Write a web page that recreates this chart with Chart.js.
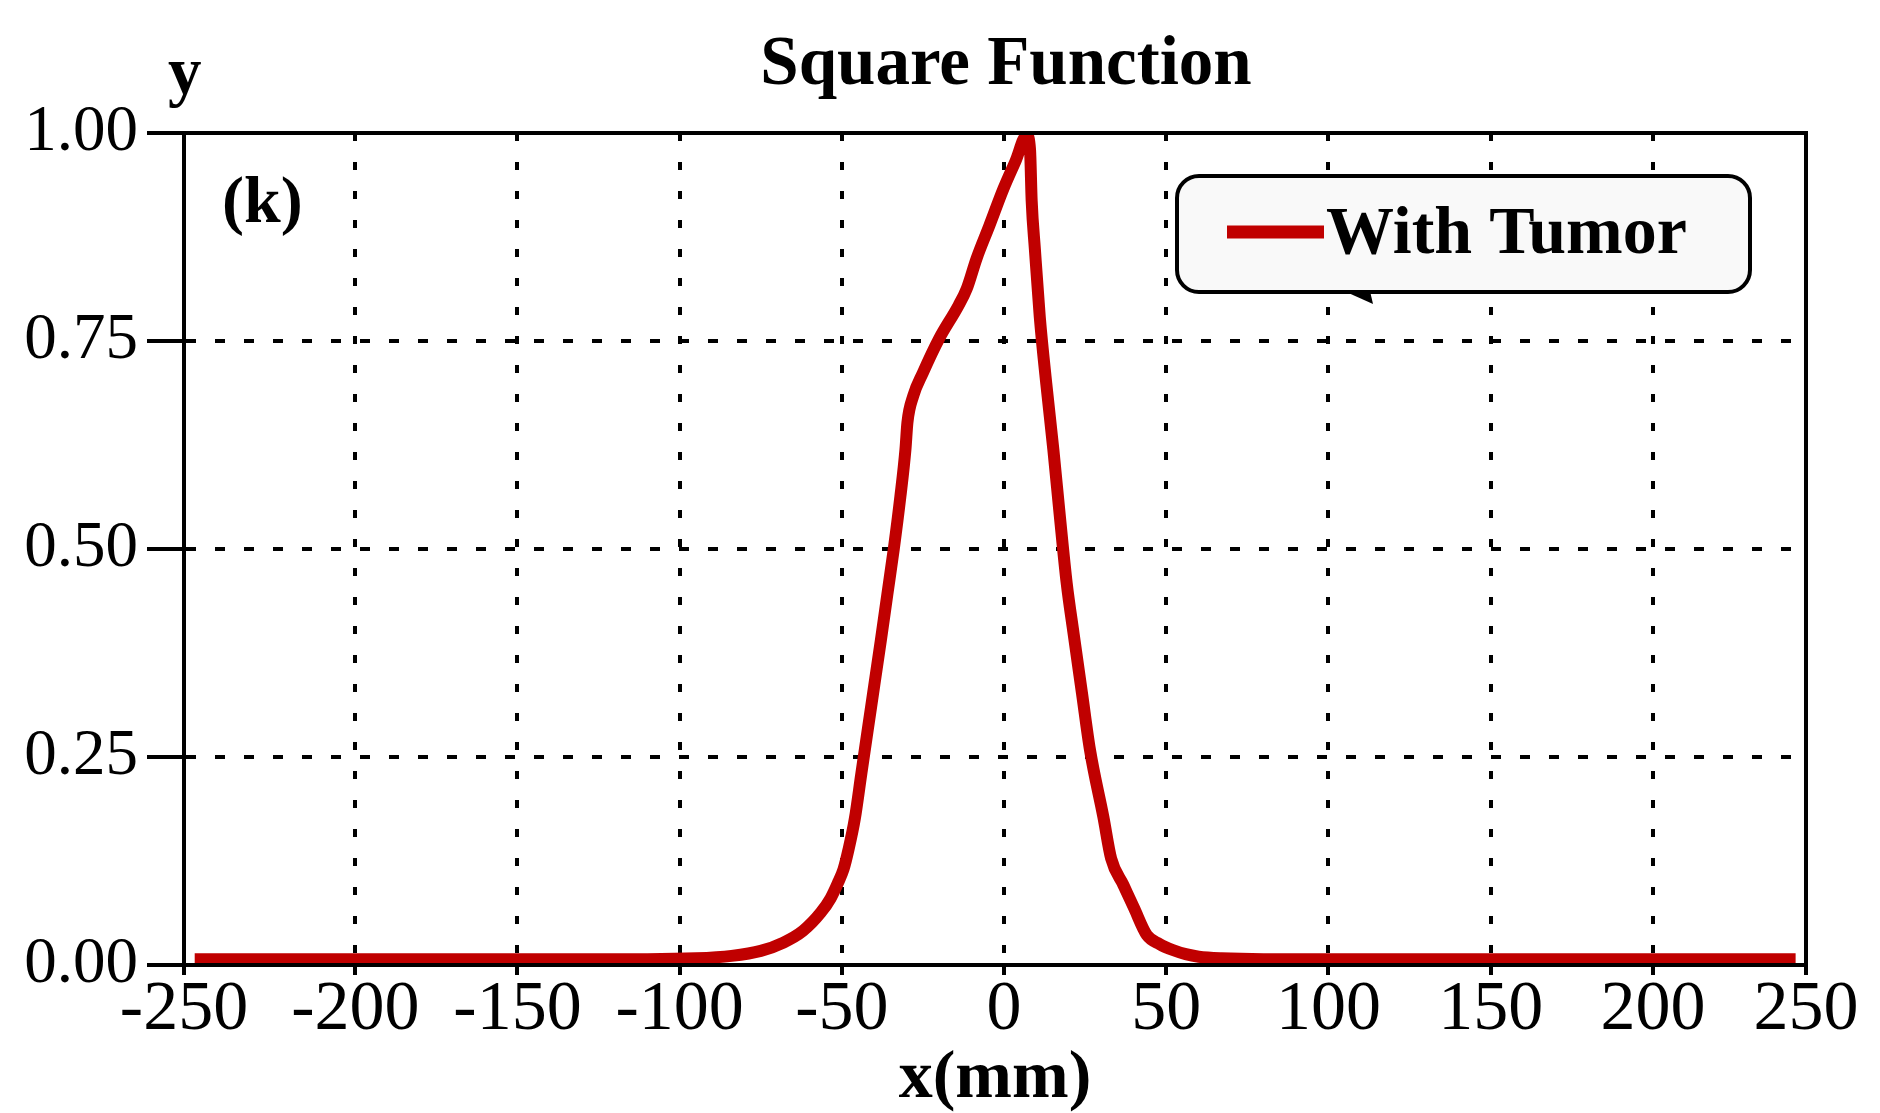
<!DOCTYPE html>
<html>
<head>
<meta charset="utf-8">
<script src="https://cdn.jsdelivr.net/npm/chart.js@4/dist/chart.umd.min.js"></script>
<style>
html,body{margin:0;padding:0;background:#fff;}
canvas{display:block;}
</style>
</head>
<body>
<canvas id="c" width="1880" height="1113"></canvas>
<script>
const chartTitle = 'Square Function';
const panelLabel = '(k)';
const xAxisTitle = 'x(mm)';
const yAxisTitle = 'y';
const seriesName = 'With Tumor';
const seriesColor = '#c00000';

const xValues = [-249.5, -150, -110, -95, -84, -75, -68, -62, -56.5, -53.5, -51.3, -49.5, -48, -46, -44, -41, -38, -36, -34, -32, -30.4, -29.8, -28, -25, -20, -14, -11.5, -8.5, -4.5, -0.2, 3.5, 7, 8, 8.5, 9.5, 11, 13, 15.2, 17.2, 19.3, 21.4, 24, 26.5, 30.6, 33, 36.8, 40, 44, 48, 52, 56, 60, 67, 80, 150, 244];
const yValues = [0.007, 0.007, 0.007, 0.008, 0.011, 0.017, 0.027, 0.041, 0.063, 0.08, 0.098, 0.115, 0.138, 0.176, 0.23, 0.31, 0.39, 0.445, 0.5, 0.562, 0.62, 0.652, 0.684, 0.712, 0.753, 0.793, 0.813, 0.849, 0.889, 0.933, 0.966, 0.997, 0.98, 0.919, 0.86, 0.779, 0.699, 0.619, 0.539, 0.459, 0.399, 0.327, 0.258, 0.178, 0.128, 0.096, 0.069, 0.036, 0.025, 0.018, 0.013, 0.01, 0.008, 0.007, 0.007, 0.007];

const xMin = -252.8;
const xMax = 247.2;
const xTicks = [-250, -200, -150, -100, -50, 0, 50, 100, 150, 200, 250];
const xTickLabels = ['-250', '-200', '-150', '-100', '-50', '0', '50', '100', '150', '200', '250'];
const yTicks = [0, 0.25, 0.5, 0.75, 1];
const yTickLabels = ['0.00', '0.25', '0.50', '0.75', '1.00'];

const FAMILY = "'Liberation Serif', 'Times New Roman', serif";

const decorations = {
  id: 'decorations',
  afterDraw(chart) {
    const ctx = chart.ctx;
    const a = chart.chartArea;
    ctx.save();
    ctx.lineWidth = 4;
    ctx.strokeStyle = '#000';
    ctx.strokeRect(a.left, a.top, a.right - a.left, a.bottom - a.top);
    ctx.fillStyle = '#000';
    ctx.textBaseline = 'alphabetic';
    ctx.font = 'bold 69px ' + FAMILY;
    ctx.textAlign = 'center';
    ctx.fillText(chartTitle, 1006, 84);
    ctx.font = 'bold 67px ' + FAMILY;
    ctx.textAlign = 'left';
    ctx.fillText(yAxisTitle, 168, 94);
    ctx.font = 'bold 66px ' + FAMILY;
    ctx.fillText(panelLabel, 222, 222);
    const ds = chart.data.datasets[0];
    const bx = 1177, by = 176, bw = 573, bh = 116;
    ctx.beginPath();
    ctx.roundRect(bx, by, bw, bh, 22);
    ctx.fillStyle = '#f9f9f9';
    ctx.fill();
    ctx.lineWidth = 4;
    ctx.strokeStyle = '#000';
    ctx.stroke();
    ctx.beginPath();
    ctx.moveTo(1344, by + bh - 1);
    ctx.lineTo(1370, by + bh - 1);
    ctx.lineTo(1373, by + bh + 12);
    ctx.closePath();
    ctx.fillStyle = '#000';
    ctx.fill();
    ctx.beginPath();
    ctx.moveTo(1227, 232);
    ctx.lineTo(1324, 232);
    ctx.lineWidth = 13;
    ctx.strokeStyle = ds.borderColor;
    ctx.stroke();
    ctx.fillStyle = '#000';
    ctx.font = 'bold 68px ' + FAMILY;
    ctx.fillText(ds.label, 1326, 253);
    ctx.restore();
  }
};

new Chart(document.getElementById('c'), {
  type: 'line',
  data: {
    datasets: [{
      label: seriesName,
      data: xValues.map((x, i) => ({x: x, y: yValues[i]})),
      borderColor: seriesColor,
      backgroundColor: seriesColor,
      borderWidth: 12,
      pointRadius: 0,
      borderJoinStyle: 'round',
      borderCapStyle: 'butt',
      cubicInterpolationMode: 'monotone',
      fill: false
    }]
  },
  options: {
    responsive: false,
    devicePixelRatio: 1,
    animation: false,
    layout: { padding: { left: 0, top: 133, right: 74, bottom: 0 } },
    plugins: {
      legend: { display: false },
      title: { display: false },
      tooltip: { enabled: false }
    },
    scales: {
      x: {
        type: 'linear',
        min: xMin,
        max: xMax,
        z: 1,
        // end ticks sit on the frame edges, as in the source figure
        afterBuildTicks: s => {
          const n = xTicks.length;
          s.ticks = xTicks.map((v, i) => ({value: i === 0 ? s.min : (i === n - 1 ? s.max : v)}));
        },
        afterFit: s => { s.height = 148; },
        ticks: {
          color: '#000',
          font: { family: FAMILY, size: 70 },
          padding: -6,
          maxRotation: 0,
          autoSkip: false,
          callback: (v, i) => xTickLabels[i]
        },
        grid: {
          color: '#000',
          lineWidth: 4,
          tickLength: 10,
          tickWidth: 4,
          tickColor: '#000',
          tickBorderDash: []
        },
        border: { display: true, color: '#000', width: 4, dash: [8, 21] },
        title: {
          display: true,
          text: xAxisTitle,
          color: '#000',
          font: { family: FAMILY, size: 68, weight: 'bold', lineHeight: 1 },
          padding: { top: 0, bottom: 0 }
        }
      },
      y: {
        type: 'linear',
        min: 0,
        max: 1,
        z: 1,
        afterBuildTicks: s => { s.ticks = yTicks.map(v => ({value: v})); },
        afterFit: s => { s.width = 184; },
        ticks: {
          color: '#000',
          font: { family: FAMILY, size: 65 },
          padding: 9,
          callback: (v, i) => yTickLabels[i]
        },
        grid: {
          color: '#000',
          lineWidth: 4,
          tickLength: 37,
          tickWidth: 4,
          tickColor: '#000',
          tickBorderDash: []
        },
        border: { display: true, color: '#000', width: 4, dash: [10, 19] }
      }
    }
  },
  plugins: [decorations]
});
</script>
</body>
</html>
